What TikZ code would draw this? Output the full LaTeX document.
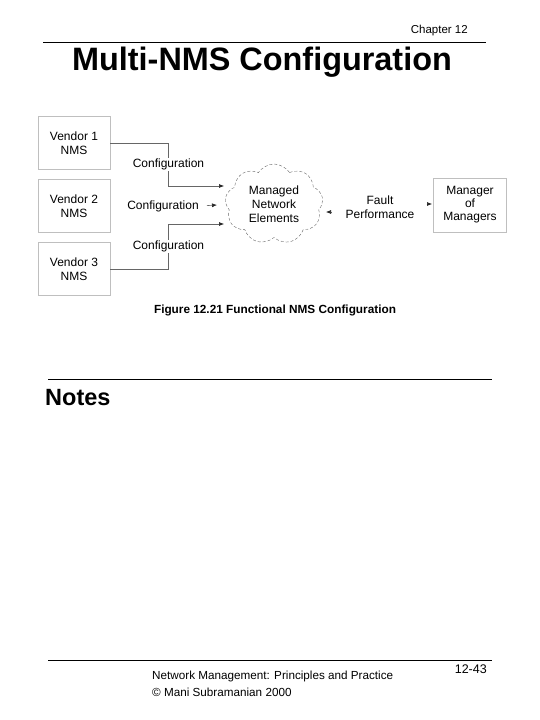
\documentclass[tikz,border=0pt]{standalone}
\usepackage{fontspec}
\setmainfont{Liberation Sans}
\usetikzlibrary{shapes.symbols,arrows.meta}
\tikzstyle{vendorbox}=[draw=black!25,line width=0.9pt,minimum width=72pt,minimum height=53pt,inner sep=0pt,align=center,font=\fontsize{12}{14}\selectfont]
\tikzstyle{mgrbox}=[draw=black!25,line width=0.9pt,minimum width=73pt,minimum height=54pt,inner sep=0pt,align=center,font=\fontsize{12}{13}\selectfont]
\tikzstyle{netcloud}=[cloud,cloud puffs=9,cloud puff arc=115,draw=black!60,densely dashed,line width=0.4pt,minimum width=98pt,minimum height=80pt,inner sep=0pt,align=center,font=\fontsize{12}{14}\selectfont]
\tikzstyle{lbl}=[align=center,fill=white,inner sep=1pt,font=\fontsize{12}{14}\selectfont]
\tikzstyle{conf}=[draw=black!60,line width=0.6pt,-{Latex[length=5pt,width=4pt,color=black!85]}]
\tikzstyle{rule}=[line width=0.8pt]

\begin{document}
\begin{tikzpicture}[x=1pt,y=-1pt]
    \useasboundingbox (0,0) rectangle (540,720);
    % header
    \node[anchor=base east,inner sep=0pt,font=\fontsize{11.5}{13}\selectfont] (chap) at (468,33) {Chapter 12};
    \node[anchor=base,inner sep=0pt,font=\fontsize{32.4}{36}\selectfont\bfseries] (title) at (262,70) {Multi-NMS Configuration};
    \foreach \ya/\xa/\xb in {42/43/486,379/48/492,660/48/492}
    \draw[rule] (\xa,\ya) -- (\xb,\ya);

    % diagram
    \node[vendorbox] (v1) at (74,143) {Vendor 1\\NMS};
    \node[vendorbox] (v2) at (74,206) {Vendor 2\\NMS};
    \node[vendorbox] (v3) at (74,269) {Vendor 3\\NMS};
    \node[netcloud] (mne) at (274,204) {Managed\\Network\\Elements};
    \node[mgrbox] (mom) at (470,205) {Manager\\of\\Managers};
    \node[lbl] (cfg2) at (163,206) {Configuration};
    \node[lbl] (fp) at (380,207) {Fault\\Performance};

    \coordinate (in1) at (224,186);
    \coordinate (in2) at (217,205);
    \coordinate (in3) at (224,224);
    \coordinate (out1) at (326,212);
    \coordinate (out2) at (432,204);

    \draw[conf] (v1.east) -- ++(58,0) |- node[lbl,pos=0.25] (cfg1) {Configuration} (in1);
    \draw[conf] (v3.east) -- ++(58,0) |- node[lbl,pos=0.25] (cfg3) {Configuration} (in3);
    \draw[conf,shorten <=7pt] (cfg2.east) -- (in2);
    \draw[conf,shorten <=13pt] (fp.west |- out1) -- (out1);
    \draw[conf,shorten <=11pt] (fp.east |- out2) -- (out2);

    \node[anchor=base,inner sep=0pt,font=\fontsize{11.8}{13}\selectfont\bfseries] (caption) at (275,313) {Figure 12.21 Functional NMS Configuration};

    % notes and footer
    \node[anchor=base west,inner sep=0pt,font=\fontsize{23.5}{27}\selectfont\bfseries] (notes) at (45,405) {Notes};
    \node[anchor=base west,inner sep=0pt,font=\fontsize{11.7}{14}\selectfont] (foot1) at (152,679) {Network Management: Principles and Practice};
    \node[anchor=base west,inner sep=0pt,font=\fontsize{11.7}{14}\selectfont] (foot2) at (152,696) {© Mani Subramanian 2000};
    \node[anchor=base east,inner sep=0pt,font=\fontsize{12.5}{14}\selectfont] (page) at (487,673) {12-43};
\end{tikzpicture}
\end{document}
